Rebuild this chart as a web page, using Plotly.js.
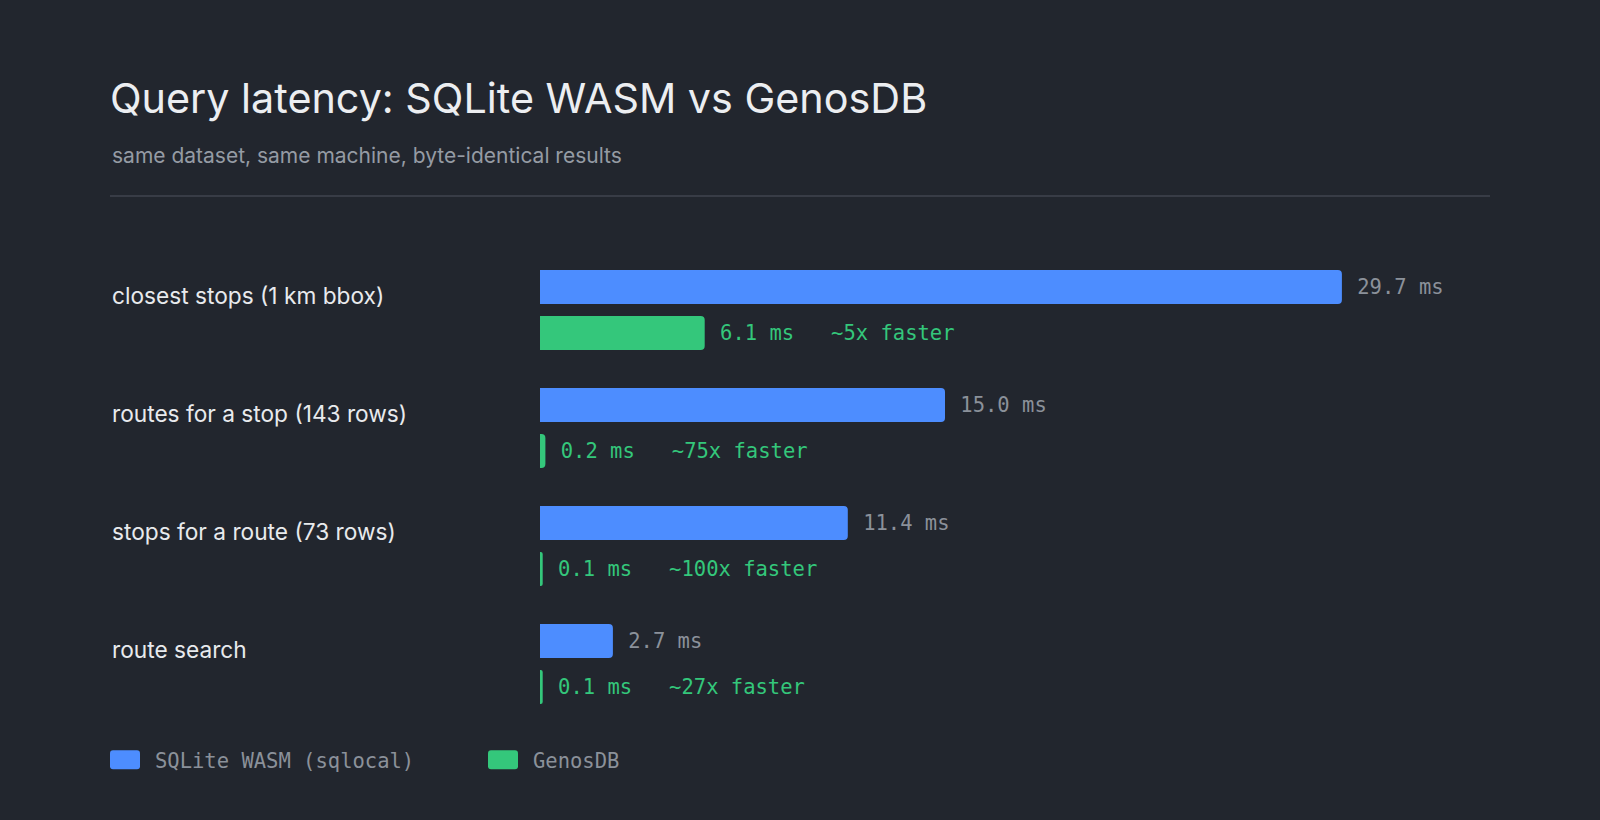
<!DOCTYPE html>
<html>
<head>
<meta charset="utf-8">
<script src="https://cdn.plot.ly/plotly-3.0.1.min.js"></script>
<style>
  html, body { margin: 0; padding: 0; background: #22262e; }
  #chart { width: 1600px; height: 820px; }
</style>
</head>
<body>
<div id="chart"></div>
<script>
// data
const queries = [
  "closest stops (1 km bbox)",
  "routes for a stop (143 rows)",
  "stops for a route (73 rows)",
  "route search",
];
const sqliteMs = [29.7, 15.0, 11.4, 2.7];
const genosMs = [6.1, 0.2, 0.1, 0.1];
const speedups = ["~5x", "~75x", "~100x", "~27x"];

const BG = "#22262e";
const BLUE = "#4d8dff";
const GREEN = "#34c77b";
const GREY = "#8b919a";
const SANS = "Inter, 'Noto Sans', sans-serif";
const MONO = "'DejaVu Sans Mono', 'Liberation Mono', monospace";

// page geometry (px)
const W = 1600, H = 820;
const M = { l: 540, r: 110, t: 251, b: 97 };
const plotW = W - M.l - M.r;
const plotH = H - M.t - M.b;
const pxPerMs = 27;

// pixel -> paper helpers for the decorations
const px = (x) => (x - M.l) / plotW;
const py = (y) => (H - M.b - y) / plotH;

const nb = "\u00a0";

const sqliteText = sqliteMs.map((v) => nb + v.toFixed(1) + " ms");
const genosText = genosMs.map(
  (v, i) => nb + v.toFixed(1) + " ms" + nb + nb + nb + speedups[i] + " faster"
);

var trace1 = {
  type: "bar",
  orientation: "h",
  name: "SQLite WASM (sqlocal)",
  y: queries,
  x: sqliteMs,
  marker: { color: BLUE },
  text: sqliteText,
  textposition: "outside",
  cliponaxis: false,
  constraintext: "none",
  outsidetextfont: { family: MONO, size: 20.5, color: GREY },
  hoverinfo: "skip",
};

var trace2 = {
  type: "bar",
  orientation: "h",
  name: "GenosDB",
  y: queries,
  x: genosMs,
  marker: { color: GREEN },
  text: genosText,
  textposition: "outside",
  cliponaxis: false,
  constraintext: "none",
  outsidetextfont: { family: MONO, size: 20.5, color: GREEN },
  hoverinfo: "skip",
};

const labelNotes = queries.map((q) => ({
  text: q,
  xref: "paper",
  x: px(110),
  xanchor: "left",
  yref: "y",
  y: q,
  yshift: 15,
  showarrow: false,
  font: { family: SANS, size: 22.7, color: "#e8eaed" },
}));

var layout = {
  width: W,
  height: H,
  paper_bgcolor: BG,
  plot_bgcolor: BG,
  margin: M,
  barmode: "group",
  bargap: 0.22,
  bargroupgap: 0.26,
  barcornerradius: 4,
  title: {
    text: "Query latency: SQLite WASM vs GenosDB",
    xref: "container",
    x: 110 / W,
    xanchor: "left",
    yref: "container",
    y: 1 - 99 / H,
    yanchor: "middle",
    font: { family: SANS, size: 41.3, color: "#eceef1" },
  },
  xaxis: {
    range: [0, plotW / pxPerMs],
    showgrid: false,
    zeroline: false,
    showticklabels: false,
    ticks: "",
    fixedrange: true,
  },
  yaxis: {
    autorange: "reversed",
    showgrid: false,
    zeroline: false,
    showticklabels: false,
    ticks: "",
    fixedrange: true,
  },
  showlegend: true,
  legend: {
    orientation: "h",
    x: px(110),
    xanchor: "left",
    y: py(760),
    yanchor: "middle",
    entrywidth: 333,
    font: { family: MONO, size: 20.5, color: GREY },
    bgcolor: "rgba(0,0,0,0)",
  },
  annotations: [
    {
      text: "same dataset, same machine, byte-identical results",
      xref: "paper",
      x: px(110),
      xanchor: "left",
      yref: "paper",
      y: py(155),
      yanchor: "middle",
      showarrow: false,
      font: { family: SANS, size: 21, color: "#959ba4" },
    },
  ].concat(labelNotes),
  shapes: [
    {
      type: "line",
      xref: "paper",
      yref: "paper",
      x0: px(110),
      x1: px(1490),
      y0: py(196),
      y1: py(196),
      line: { color: "#383c46", width: 2 },
    },
  ],
};

Plotly.newPlot("chart", [trace1, trace2], layout, {
  displayModeBar: false,
  staticPlot: true,
}).then(function (gd) {
  // wider rounded swatches in the legend, a bit more room before the text
  gd.querySelectorAll(".legend .legendpoints path").forEach(function (p) {
    p.setAttribute(
      "d",
      "M-17,-9.5H7A3,3 0 0 1 10,-6.5V6.5A3,3 0 0 1 7,9.5H-17A3,3 0 0 1 -20,6.5V-6.5A3,3 0 0 1 -17,-9.5Z"
    );
  });
  gd.querySelectorAll(".legend .legendtext").forEach(function (t) {
    var x = parseFloat(t.getAttribute("x")) || 0;
    t.setAttribute("x", x + 5);
  });
});
</script>
</body>
</html>
